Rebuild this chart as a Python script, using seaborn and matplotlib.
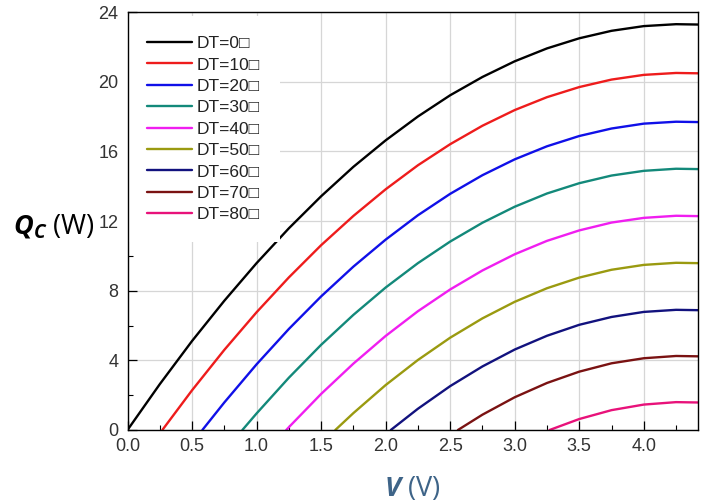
import matplotlib
matplotlib.use("Agg")
import matplotlib.pyplot as plt
from matplotlib.ticker import AutoMinorLocator
import seaborn as sns

# Cooling capacity Qc (W) versus applied voltage V (V) for several temperature differences
dt_labels = ["DT=0□", "DT=10□", "DT=20□", "DT=30□", "DT=40□",
             "DT=50□", "DT=60□", "DT=70□", "DT=80□"]
line_colors = ["#000000", "#ee1c1c", "#1010e8", "#13897a", "#f01ef0",
               "#9a9a10", "#12127e", "#7a1212", "#e8127a"]

v_dt0 = [0.0, 0.25, 0.5, 0.75, 1.0, 1.25, 1.5, 1.75, 2.0, 2.25, 2.5, 2.75, 3.0, 3.25, 3.5, 3.75, 4.0, 4.25, 4.42]
q_dt0 = [0.0, 2.63, 5.11, 7.42, 9.58, 11.58, 13.42, 15.11, 16.63, 18.0, 19.22, 20.27, 21.17, 21.91, 22.49, 22.92, 23.19, 23.3, 23.28]

v_dt10 = [0.27, 0.5, 0.75, 1.0, 1.25, 1.5, 1.75, 2.0, 2.25, 2.5, 2.75, 3.0, 3.25, 3.5, 3.75, 4.0, 4.25, 4.42]
q_dt10 = [0.0, 2.28, 4.6, 6.76, 8.76, 10.61, 12.29, 13.82, 15.2, 16.41, 17.47, 18.37, 19.11, 19.69, 20.12, 20.39, 20.5, 20.48]

v_dt20 = [0.58, 0.75, 1.0, 1.25, 1.5, 1.75, 2.0, 2.25, 2.5, 2.75, 3.0, 3.25, 3.5, 3.75, 4.0, 4.25, 4.42]
q_dt20 = [0.0, 1.58, 3.77, 5.8, 7.67, 9.38, 10.93, 12.33, 13.56, 14.63, 15.54, 16.29, 16.88, 17.31, 17.59, 17.7, 17.68]

v_dt30 = [0.89, 1.0, 1.25, 1.5, 1.75, 2.0, 2.25, 2.5, 2.75, 3.0, 3.25, 3.5, 3.75, 4.0, 4.25, 4.42]
q_dt30 = [0.0, 0.95, 3.0, 4.89, 6.61, 8.18, 9.58, 10.82, 11.9, 12.82, 13.58, 14.17, 14.61, 14.88, 15.0, 14.98]

v_dt40 = [1.23, 1.25, 1.5, 1.75, 2.0, 2.25, 2.5, 2.75, 3.0, 3.25, 3.5, 3.75, 4.0, 4.25, 4.42]
q_dt40 = [0.0, 0.16, 2.07, 3.81, 5.4, 6.82, 8.07, 9.16, 10.09, 10.86, 11.46, 11.91, 12.18, 12.3, 12.28]

v_dt50 = [1.61, 1.75, 2.0, 2.25, 2.5, 2.75, 3.0, 3.25, 3.5, 3.75, 4.0, 4.25, 4.42]
q_dt50 = [0.0, 0.97, 2.58, 4.02, 5.3, 6.41, 7.36, 8.14, 8.75, 9.2, 9.48, 9.6, 9.58]

v_dt60 = [2.04, 2.25, 2.5, 2.75, 3.0, 3.25, 3.5, 3.75, 4.0, 4.25, 4.42]
q_dt60 = [0.0, 1.22, 2.52, 3.65, 4.62, 5.41, 6.04, 6.49, 6.78, 6.9, 6.88]

v_dt70 = [2.56, 2.75, 3.0, 3.25, 3.5, 3.75, 4.0, 4.25, 4.42]
q_dt70 = [0.0, 0.88, 1.88, 2.7, 3.35, 3.83, 4.12, 4.25, 4.23]

v_dt80 = [3.27, 3.5, 3.75, 4.0, 4.25, 4.42]
q_dt80 = [0.0, 0.63, 1.14, 1.46, 1.6, 1.58]

x_ticks = [0.0, 0.5, 1.0, 1.5, 2.0, 2.5, 3.0, 3.5, 4.0]
x_tick_labels = ["0.0", "0.5", "1.0", "1.5", "2.0", "2.5", "3.0", "3.5", "4.0"]
y_ticks = [0, 4, 8, 12, 16, 20, 24]
y_tick_labels = ["0", "4", "8", "12", "16", "20", "24"]

series_v = [v_dt0, v_dt10, v_dt20, v_dt30, v_dt40, v_dt50, v_dt60, v_dt70, v_dt80]
series_q = [q_dt0, q_dt10, q_dt20, q_dt30, q_dt40, q_dt50, q_dt60, q_dt70, q_dt80]

sns.set_theme(style="white")
plt.rcParams["font.family"] = ["Liberation Sans", "DejaVu Sans"]
plt.rcParams["mathtext.fontset"] = "custom"
plt.rcParams["mathtext.rm"] = "Open Sans"
plt.rcParams["mathtext.it"] = "Open Sans:italic"
plt.rcParams["mathtext.bf"] = "Open Sans:bold"
plt.rcParams["mathtext.bfit"] = "Open Sans:bold:italic"

fig = plt.figure(figsize=(7.01, 5.03), dpi=100)
ax = fig.add_axes([127.5 / 701, 73 / 503, 570.5 / 701, 418 / 503])

for v, q, lab, col in zip(series_v, series_q, dt_labels, line_colors):
    sns.lineplot(x=v, y=q, ax=ax, color=col, label=lab, lw=1.7,
                 estimator=None, sort=False)

ax.set_xlim(0, 4.42)
ax.set_ylim(0, 24)
ax.set_xticks(x_ticks)
ax.set_xticklabels(x_tick_labels)
ax.set_yticks(y_ticks)
ax.set_yticklabels(y_tick_labels)
ax.xaxis.set_minor_locator(AutoMinorLocator(2))
ax.yaxis.set_minor_locator(AutoMinorLocator(2))

ax.grid(True, which="major", color="#d6d6d6", lw=0.9)
ax.set_axisbelow(True)

# frame drawn above the legend box so the left edge stays visible
for side in ["top", "bottom", "left", "right"]:
    ax.spines[side].set_visible(True)
    ax.spines[side].set_color("black")
    ax.spines[side].set_linewidth(1.0)
    ax.spines[side].set_zorder(6)

ax.tick_params(axis="x", which="major", direction="in", length=6.5, width=0.9,
               color="black", labelsize=13, labelcolor="#333333", pad=6,
               bottom=True, top=False)
ax.tick_params(axis="y", which="major", direction="in", length=6.5, width=0.9,
               color="black", labelsize=13, labelcolor="#333333", pad=6.5,
               left=True, right=False)
ax.tick_params(which="minor", direction="in", length=3.5, width=0.8,
               color="black", bottom=True, left=True, top=False, right=False)

ax.set_xlabel(r"$\mathbfit{V}$ (V)", fontsize=19.5, color="#3e6488",
              fontfamily="Open Sans")
ax.xaxis.set_label_coords(0.499, -0.141)
ax.xaxis.label.set_va("center")

ax.set_ylabel(r"$\mathbfit{Q}_{\mathbfit{C}}$ (W)", fontsize=19.5, color="black",
              fontfamily="Open Sans", rotation=0)
ax.yaxis.set_label_coords(-0.201, 0.488)
ax.yaxis.label.set_ha("left")
ax.yaxis.label.set_va("center")

ax.legend(loc="upper left", bbox_to_anchor=(0, 1 - 4 / 418), borderaxespad=0,
          borderpad=1.15, frameon=True, fancybox=False, edgecolor="none",
          facecolor="white", framealpha=1, handlelength=2.55,
          handletextpad=0.3, labelspacing=0.36, fontsize=12.5,
          labelcolor="#222222")

fig.savefig("out.png", dpi=100)
